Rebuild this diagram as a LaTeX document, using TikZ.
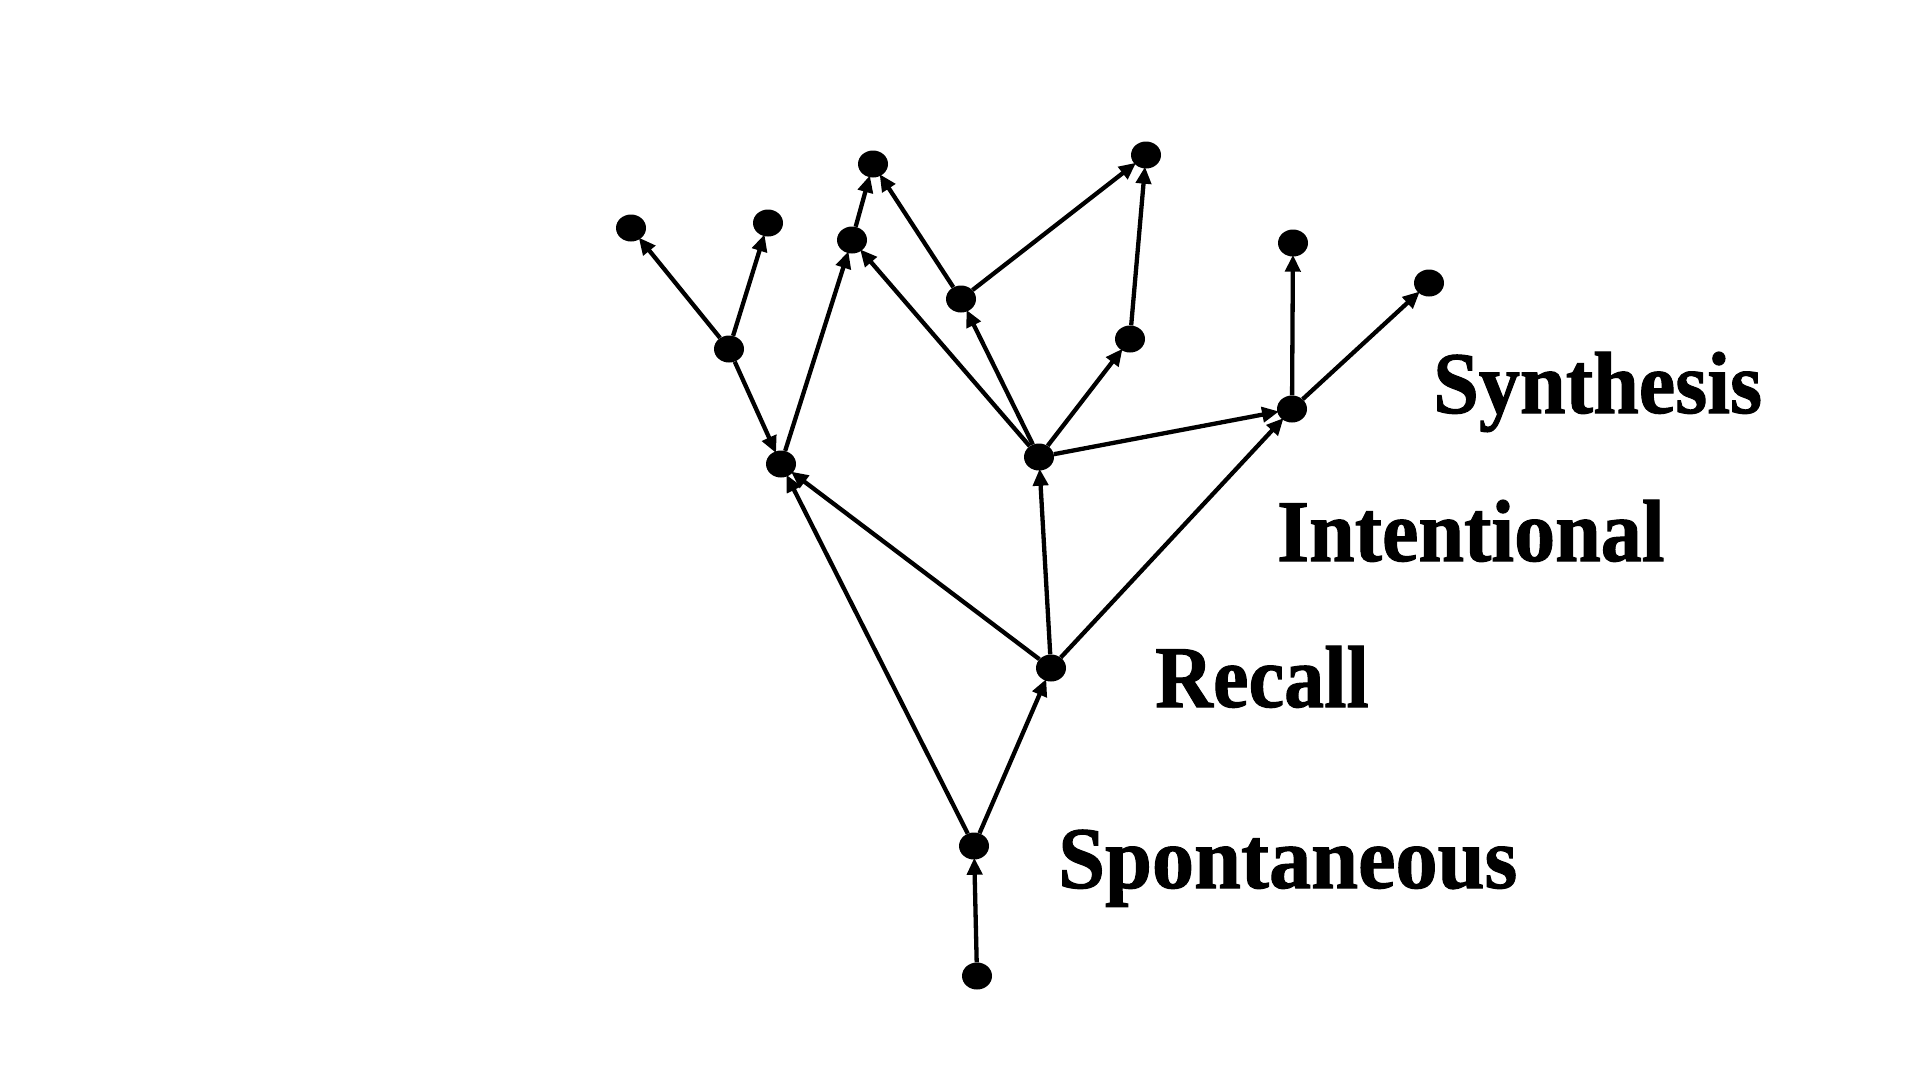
\documentclass[tikz,border=0pt]{standalone}
\usepackage{fontspec}
\setmainfont{Liberation Serif}
\newfontfamily\heavy[FakeBold=1.2]{Liberation Serif Bold}
\usetikzlibrary{shapes.geometric,arrows.meta}
\begin{document}
\begin{tikzpicture}[x=1pt,y=-1pt,
  dot/.style={ellipse,fill=black,draw=none,minimum width=30pt,minimum height=27pt,inner sep=0pt},
  edge/.style={line width=4.3pt,-{Triangle[length=17pt,width=15pt]},shorten >=-2pt},
  lab/.style={anchor=base west,inner sep=0pt,font=\fontsize{88}{100}\heavy}]
\useasboundingbox (0,0) rectangle (1920,1080);
\node[dot] (Z) at (977,976) {};
\node[dot] (A) at (974,846) {};
\node[dot] (B) at (1051,668) {};
\node[dot] (C) at (781,464) {};
\node[dot] (D) at (1039,457) {};
\node[dot] (E) at (1292,409) {};
\node[dot] (F) at (729,349) {};
\node[dot] (G) at (631,228) {};
\node[dot] (H) at (768,223) {};
\node[dot] (I) at (852,240) {};
\node[dot] (J) at (873,164) {};
\node[dot] (K) at (961,299) {};
\node[dot] (L) at (1146,155) {};
\node[dot] (M) at (1130,339) {};
\node[dot] (N) at (1293,243) {};
\node[dot] (O) at (1429,283) {};
\draw[edge] (Z) -- (A);
\draw[edge] (A) -- (B);
\draw[edge] (A) -- (C);
\draw[edge] (B) -- (C);
\draw[edge] (B) -- (D);
\draw[edge] (B) -- (E);
\draw[edge] (C) -- (I);
\draw[edge] (F) -- (C);
\draw[edge] (F) -- (G);
\draw[edge] (F) -- (H);
\draw[edge] (I) -- (J);
\draw[edge] (D) -- (I);
\draw[edge] (D) -- (K);
\draw[edge] (K) -- (J);
\draw[edge] (K) -- (L);
\draw[edge] (D) -- (M);
\draw[edge] (M) -- (L);
\draw[edge] (D) -- (E);
\draw[edge] (E) -- (N);
\draw[edge] (E) -- (O);
\node[lab] (t1) at (1433,413) {\scalebox{0.934}[1]{Synthesis}};
\node[lab] (t2) at (1277,561) {\scalebox{0.932}[1]{Intentional}};
\node[lab] (t3) at (1155,707) {\scalebox{0.91}[1]{Recall}};
\node[lab] (t4) at (1058,888) {\scalebox{0.958}[1]{Spontaneous}};
\end{tikzpicture}
\end{document}
